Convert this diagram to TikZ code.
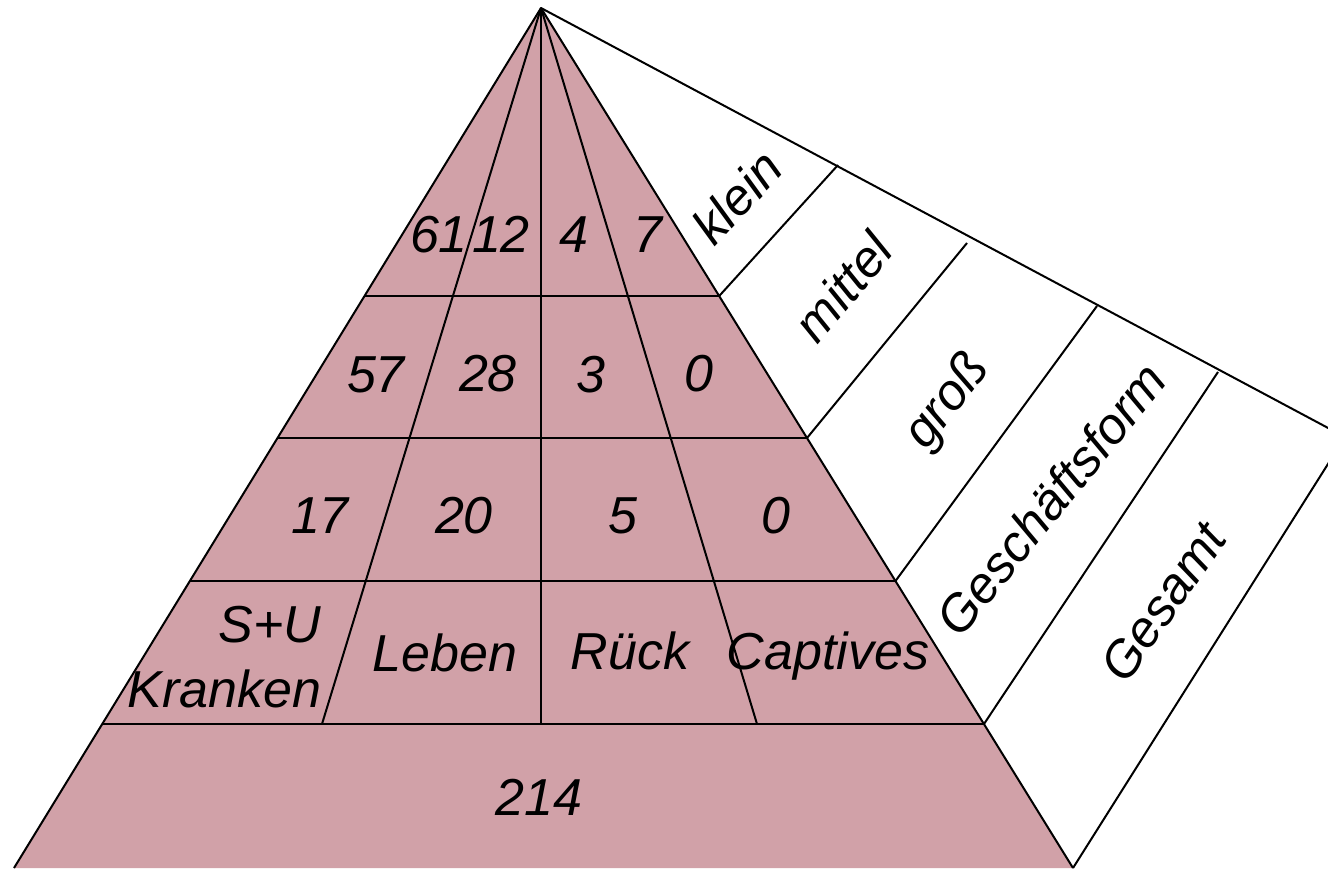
\documentclass[tikz,border=0pt]{standalone}
\usepackage{fontspec}
\setmainfont{Liberation Sans}
\usetikzlibrary{calc}
\definecolor{pyrfill}{RGB}{209,161,168}
\begin{document}
\begin{tikzpicture}[x=1pt,y=-1pt,line width=2pt,line join=round,
  cell/.style={font=\fontsize{52}{60}\selectfont\itshape,inner sep=0pt,anchor=base},
  side/.style={font=\fontsize{51}{58}\selectfont\itshape,inner sep=0pt,anchor=center}]
\useasboundingbox (0,0) rectangle (1328,868);
\clip (0,0) rectangle (1328,868);

% pyramid corners
\coordinate (A) at (541,8);
\coordinate (BL) at (14,868);
\coordinate (BR) at (1073,868);
% row boundaries on the two slanted edges
\foreach \n/\t in {1/0.3349,2/0.5,3/0.6663,4/0.8326}{
  \coordinate (L\n) at ($(A)!\t!(BL)$);
  \coordinate (R\n) at ($(A)!\t!(BR)$);
}
% column feet on the lowest row line
\coordinate (C1) at (322,724);
\coordinate (C2) at (541,724);
\coordinate (C3) at (757,724);
% outer band corners
\coordinate (T0) at (1345,437);
\coordinate (T1) at (838,165);
\coordinate (T2) at (967,243);
\coordinate (T3) at (1097,306);
\coordinate (T4) at (1218,372);

% pyramid body
\fill[pyrfill] (A) -- (BL) -- (BR) -- cycle;
\draw (BL) -- (A) -- (BR);
\foreach \n in {1,2,3,4} \draw (L\n) -- (R\n);
\foreach \n in {1,2,3} \draw (A) -- (C\n);

% side band
\draw (A) -- (T0) -- (BR);
\foreach \n in {1,2,3,4} \draw (R\n) -- (T\n);

% cell values
\node[cell] (v11) at (439,252) {61};
\node[cell] (v12) at (501,252) {12};
\node[cell] (v13) at (574,252) {4};
\node[cell] (v14) at (648,252) {7};
\node[cell] (v21) at (376,392) {57};
\node[cell] (v22) at (488,391) {28};
\node[cell] (v23) at (591,392) {3};
\node[cell] (v24) at (699,391) {0};
\node[cell] (v31) at (320,533) {17};
\node[cell] (v32) at (464,533) {20};
\node[cell] (v33) at (623,533) {5};
\node[cell] (v34) at (776,533) {0};
\node[cell,anchor=base east] (h1a) at (322,642) {S+U};
\node[cell,anchor=base east] (h1b) at (322,707) {Kranken};
\node[cell] (h2) at (445,671) {Leben};
\node[cell] (h3) at (630,669) {Rück};
\node[cell] (h4) at (828,669) {Captives};
\node[cell] (tot) at (539,815) {214};

% band labels
\node[side,rotate=47] (s1) at (737,197) {klein};
\node[side,rotate=50] (s2) at (843,287) {mittel};
\node[side,rotate=52] (s3) at (948,402) {groß};
\node[side,rotate=51] (s4) at (1051,499) {Geschäftsform};
\node[side,rotate=55] (s5) at (1163,602) {Gesamt};
\end{tikzpicture}
\end{document}
